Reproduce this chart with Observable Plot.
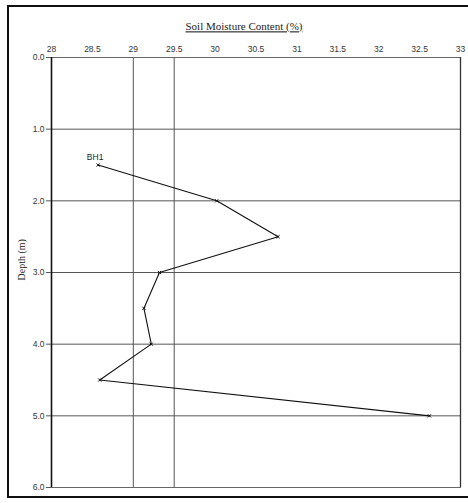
<!DOCTYPE html>
<html>
<head>
<meta charset="utf-8">
<script src="https://cdn.jsdelivr.net/npm/d3@7"></script>
<script src="https://cdn.jsdelivr.net/npm/@observablehq/plot@0.6"></script>
<style>
  html, body { margin: 0; padding: 0; background: #fff; overflow: hidden; }
  #wrap { position: relative; width: 468px; height: 503px; overflow: hidden; }
  #border { position: absolute; left: 7px; top: 5px; right: 0; height: 493px;
            border-left: 2px solid #111; border-top: 2px solid #111; border-bottom: 2px solid #111;
            pointer-events: none; box-sizing: border-box; }
  .title text, text.title { text-decoration: underline; }
</style>
</head>
<body>
<div id="wrap"><div id="chart"></div><div id="border"></div></div>
<script>
// Data (borehole BH1)
const depth    = [1.5, 2.0, 2.5, 3.0, 3.5, 4.0, 4.5, 5.0];
const moisture = [28.57, 30.02, 30.77, 29.32, 29.13, 29.22, 28.59, 32.62];
const series   = "BH1";

const xTicks = [28, 28.5, 29, 29.5, 30, 30.5, 31, 31.5, 32, 32.5, 33];
const yTicks = [0, 1, 2, 3, 4, 5, 6];
const xDomain = [28, 33];
const yDomain = [0, 6];
const hGrid = [1, 2, 3, 4, 5];
const vGrid = [29, 29.5];

const titleText = "Soil Moisture Content (%)";
const yLabel = "Depth (m)";

const data = depth.map((d, i) => ({depth: d, moisture: moisture[i]}));

const chart = Plot.plot({
  width: 468,
  height: 503,
  marginLeft: 51,
  marginRight: 8,
  marginTop: 57,
  marginBottom: 16,
  style: {background: "#fff", fontFamily: "'Liberation Sans', Arial, sans-serif", fontSize: "8.5px", color: "#333"},
  x: {domain: xDomain},
  y: {domain: yDomain, reverse: true},
  marks: [
    Plot.ruleY(hGrid, {stroke: "#555", strokeWidth: 1}),
    Plot.ruleX(vGrid, {stroke: "#555", strokeWidth: 1}),
    Plot.frame({stroke: "#666", strokeWidth: 1}),
    Plot.ruleX([xDomain[0]], {stroke: "#111", strokeWidth: 1.6}),
    Plot.ruleX([xDomain[1]], {stroke: "#333", strokeWidth: 1.3}),
    Plot.axisX({anchor: "top", ticks: xTicks, tickSize: 0, tickPadding: 6, tickFormat: d => String(d), label: null}),
    Plot.axisY({anchor: "left", ticks: yTicks, tickSize: 5, tickPadding: 2, tickFormat: d => d.toFixed(1), label: null, stroke: "#555"}),
    Plot.line(data, {x: "moisture", y: "depth", stroke: "#111", strokeWidth: 1.1}),
    Plot.dot(data, {x: "moisture", y: "depth", symbol: "times", r: 1.6, stroke: "#111", strokeWidth: 1}),
    Plot.text([data[0]], {x: "moisture", y: "depth", text: () => series, dy: -8, dx: -3, fontSize: 8.5, fill: "#222"}),
    Plot.text([titleText], {frameAnchor: "top", dy: -35, dx: -12, fontSize: 11, fill: "#222",
      fontFamily: "'Liberation Serif', 'Times New Roman', serif", className: "title"}),
    Plot.text([yLabel], {frameAnchor: "left", rotate: -90, dx: -30, dy: 8, fontSize: 10, fill: "#222",
      fontFamily: "'Liberation Serif', 'Times New Roman', serif"})
  ]
});
document.getElementById("chart").appendChild(chart);
</script>
</body>
</html>
